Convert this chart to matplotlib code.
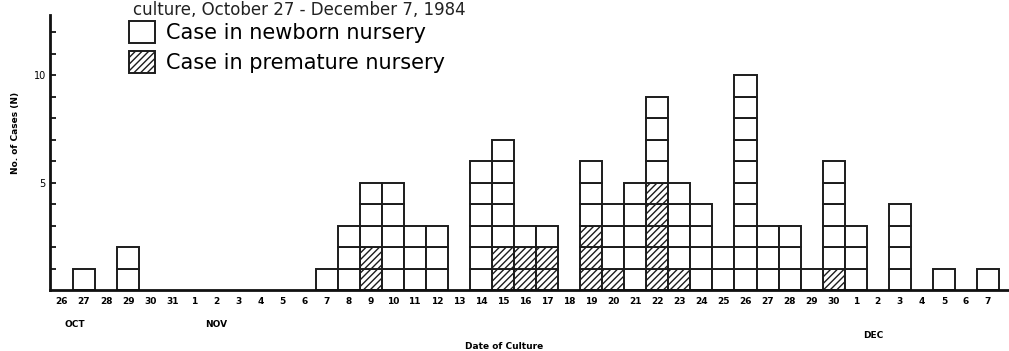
import matplotlib
matplotlib.use("Agg")
import matplotlib.pyplot as plt
from matplotlib.patches import Patch
import matplotlib.transforms as mtransforms
import numpy as np

# ---- data ----
oct_days = list(range(26, 32))
nov_days = list(range(1, 31))
dec_days = list(range(1, 8))
day_labels = [str(d) for d in oct_days + nov_days + dec_days]

# cases per day of culture (Oct 26 ... Dec 7)
newborn = [0, 1, 0, 2, 0, 0,
           0, 0, 0, 0, 0, 0, 1, 3, 3, 5, 3, 3, 0, 6, 5, 1, 1, 0, 3, 3, 5, 4, 4, 4,
           2, 10, 3, 3, 1, 5,
           3, 0, 4, 0, 1, 0, 1]
premature = [0, 0, 0, 0, 0, 0,
             0, 0, 0, 0, 0, 0, 0, 0, 2, 0, 0, 0, 0, 0, 2, 2, 2, 0, 3, 1, 0, 5, 1, 0,
             0, 0, 0, 0, 0, 1,
             0, 0, 0, 0, 0, 0, 0]

month_labels = ["OCT", "NOV", "DEC"]
month_pos = [0.6, 7.0, 36.8]
legend_labels = ["Case in newborn nursery", "Case in premature nursery"]
title_text = "culture, October 27 - December 7, 1984"

# ---- figure ----
W, H = 1009, 351
fig = plt.figure(figsize=(W / 100, H / 100), dpi=100)
ax = fig.add_axes([50 / W, 1 - 290 / H, 959 / W, 275 / H])

plt.rcParams["hatch.linewidth"] = 1.0
edge = "#1c1c1c"
lw = 1.4

x = np.arange(len(day_labels))
nb = np.array(newborn)
pm = np.array(premature)

for level in range(pm.max()):
    m = pm > level
    ax.bar(x[m], 1, bottom=level, width=1, facecolor="white",
           edgecolor=edge, linewidth=lw, hatch="/////", zorder=2)
for level in range(nb.max()):
    m = nb > level
    ax.bar(x[m], 1, bottom=pm[m] + level, width=1, facecolor="white",
           edgecolor=edge, linewidth=lw, zorder=2)

ax.set_xlim(-0.544, 42.95)
ax.set_ylim(0, 12.8)

for s in ["top", "right"]:
    ax.spines[s].set_visible(False)
for s in ["left", "bottom"]:
    ax.spines[s].set_linewidth(2.0)
    ax.spines[s].set_color("#111111")

ax.set_xticks(x)
ax.set_xticklabels(day_labels, fontsize=6.5, fontweight="bold")
ax.tick_params(axis="x", length=0, pad=5)

ax.set_yticks(range(1, 13))
ax.set_yticklabels(["5" if v == 5 else "10" if v == 10 else "" for v in range(1, 13)],
                   fontsize=7)
ax.tick_params(axis="y", direction="in", length=4, width=1.2, pad=3)

ax.set_ylabel("No. of Cases (N)", fontsize=6.5, fontweight="bold")
ax.yaxis.set_label_coords(-0.031, 0.57)

trans = mtransforms.blended_transform_factory(ax.transData, ax.transAxes)
for lab, pos, yy in zip(month_labels, month_pos, [-0.125, -0.125, -0.165]):
    ax.text(pos, yy, lab, transform=trans, ha="center", va="center",
            fontsize=6.5, fontweight="bold")

ax.text(0.474, -0.205, "Date of Culture", transform=ax.transAxes,
        ha="center", va="center", fontsize=6.5, fontweight="bold")

fig.text(133 / W, 1 - 1 / H, title_text, fontsize=12, va="top", ha="left",
         color="#222222")

handles = [Patch(facecolor="white", edgecolor=edge, linewidth=lw),
           Patch(facecolor="white", edgecolor=edge, linewidth=lw, hatch="/////")]
fig.legend(handles, legend_labels, loc="upper left",
           bbox_to_anchor=(129 / W, 1 - 21 / H), frameon=False, fontsize=15,
           handlelength=1.25, handleheight=1.25, handletextpad=0.55,
           labelspacing=0.4, borderpad=0, borderaxespad=0)

fig.savefig("out.png", dpi=100)
